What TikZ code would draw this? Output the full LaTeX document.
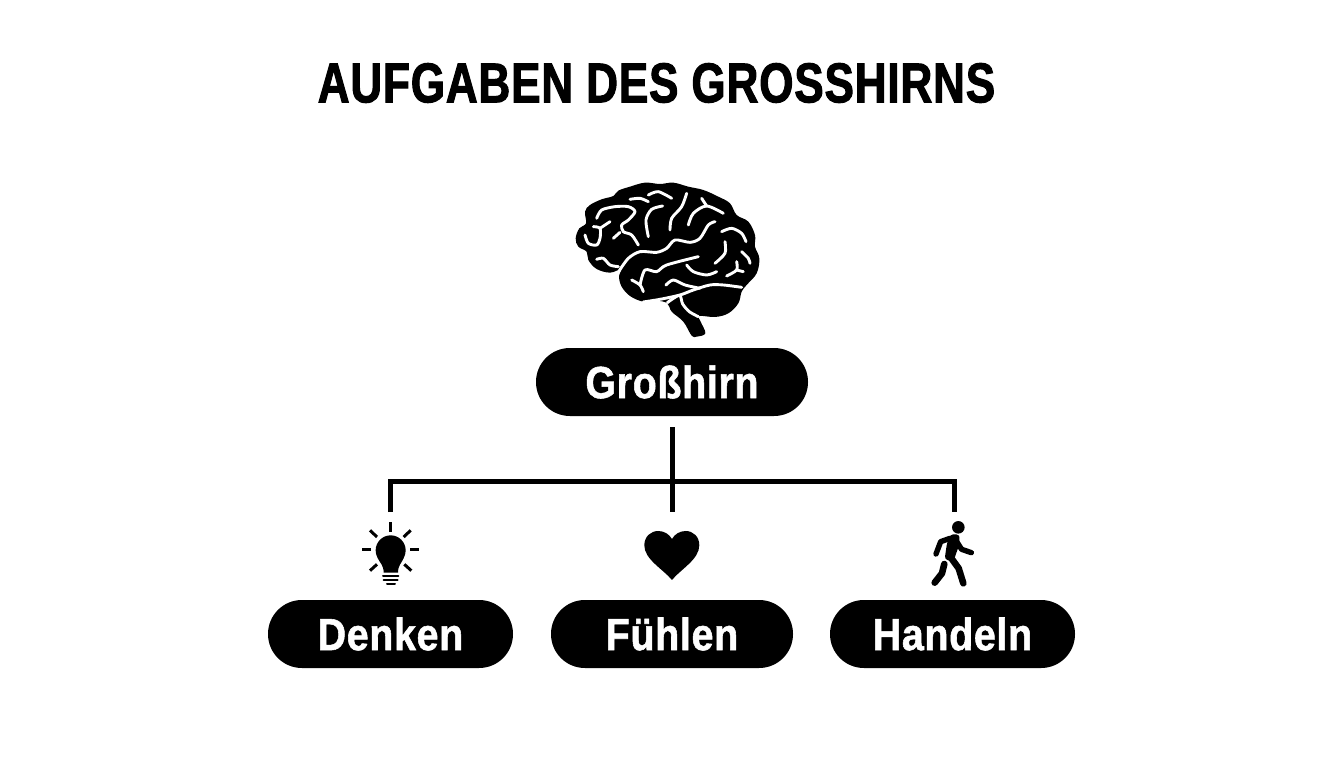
\documentclass[tikz,border=0pt]{standalone}
\usepackage{fontspec}
\setmainfont{Liberation Sans}
\newfontfamily\titlefont{Liberation Sans Bold}[FakeStretch=0.785,FakeBold=1.8,LetterSpace=1.6]
\newfontfamily\pillfont{Liberation Sans Bold}[FakeStretch=0.875,FakeBold=1.2,LetterSpace=1.5]
\begin{document}
\begin{tikzpicture}[x=1pt,y=-1pt,
  pill/.style={fill=black,rounded corners=33.9pt,minimum height=68pt,inner sep=0pt,text=white,font=\fontsize{45}{45}\pillfont\selectfont},
  conn/.style={draw=black,line width=5pt},
  sulcus/.style={draw=white,line width=2.9pt,line cap=round,line join=round},
  titletext/.style={font=\fontsize{56}{56}\titlefont\selectfont,inner sep=0pt}]
\useasboundingbox[fill=white] (0,0) rectangle (1344,768);
\node[titletext] (title) at (656.5,83) {AUFGABEN DES GROSSHIRNS};
\node[pill,minimum width=272pt] (gross) at (672,382) {Großhirn};
\node[pill,minimum width=245pt] (denken) at (390.5,634) {Denken};
\node[pill,minimum width=242pt] (fuehlen) at (672,634) {Fühlen};
\node[pill,minimum width=245pt] (handeln) at (952.5,634) {Handeln};
\coordinate (start) at (672,427);
\coordinate (hub) at (672,481);
\coordinate (endA) at (390.5,512);
\coordinate (endB) at (672,512);
\coordinate (endC) at (954,512);
\draw[conn] (start) -- (endB);
\draw[conn,line join=miter] (endA) |- (hub) -| (endC);
% brain
\begin{scope}[shift={(560,170)},x=0.3333pt,y=-0.3333pt]
\fill[black] plot[smooth cycle,tension=.6] coordinates {
(47,205)(58,175)(78,160)(75,125)(90,105)(125,88)(160,78)(175,62)(210,50)(255,38)(300,42)(340,38)(385,50)(430,60)(475,80)(510,100)(530,135)(565,155)(585,195)(585,230)(598,265)(590,310)(560,345)(545,365)(535,400)(505,430)(465,441)(418,438)(422,455)(436,490)(410,500)(395,497)(370,455)(335,425)(322,400)(290,392)(250,395)(210,378)(185,350)(177,320)(183,298)(150,308)(110,297)(85,270)(80,245)(55,230)};
\draw[sulcus] plot[smooth,tension=.5] coordinates {(178,302)(205,265)(240,245)(290,247)(320,235)(345,210)(390,217)(420,205)(445,165)(465,155)};
\draw[sulcus] plot[smooth,tension=.5] coordinates {(250,396)(300,388)(360,375)(400,360)(450,345)(490,345)(545,352)};
\draw[sulcus] plot[smooth,tension=.5] coordinates {(322,398)(358,376)(368,402)(388,425)(415,440)};
\draw[sulcus] plot[smooth,tension=.5] coordinates {(210,88)(240,85)(265,95)};
\draw[sulcus] plot[smooth,tension=.5] coordinates {(265,75)(295,65)(335,85)};
\draw[sulcus] plot[smooth,tension=.5] coordinates {(110,145)(125,120)(165,110)(205,110)(225,125)(205,150)(185,165)(190,185)(215,195)(235,225)};
\draw[sulcus] (160,205) -- (180,187);
\draw[sulcus] plot[smooth,tension=.5] coordinates {(265,200)(258,150)(275,118)(308,108)};
\draw[sulcus] plot[smooth,tension=.5] coordinates {(330,180)(335,145)(365,110)(380,70)};
\draw[sulcus] plot[smooth,tension=.5] coordinates {(385,165)(400,130)(440,108)(490,130)};
\draw[sulcus] (440,108) -- (425,85);
\draw[sulcus] plot[smooth,tension=.5] coordinates {(75,195)(85,220)(110,225)(120,205)(120,175)(100,170)};
\draw[sulcus] (120,175) -- (150,155);
\draw[sulcus] plot[smooth,tension=.5] coordinates {(110,268)(130,265)(150,285)(175,290)};
\draw[sulcus] plot[smooth,tension=.5] coordinates {(485,185)(515,175)(545,190)(558,215)};
\draw[sulcus] plot[smooth,tension=.5] coordinates {(495,215)(495,250)(465,280)};
\draw[sulcus] plot[smooth,tension=.5] coordinates {(545,245)(565,265)(570,280)};
\draw[sulcus] plot[smooth,tension=.5] coordinates {(530,275)(530,300)(500,318)};
\draw[sulcus] (530,300) -- (550,305);
\draw[sulcus] plot[smooth,tension=.5] coordinates {(215,330)(240,345)(250,365)};
\draw[sulcus] plot[smooth,tension=.5] coordinates {(240,345)(255,300)(290,305)(320,285)(415,260)};
\draw[sulcus] plot[smooth,tension=.5] coordinates {(380,285)(400,305)(440,315)(470,305)};
\draw[sulcus] plot[smooth,tension=.5] coordinates {(318,345)(340,330)(375,345)(420,355)};
\end{scope}
% bulb
\begin{scope}[shift={(340,470)},x=0.3333pt,y=-0.3333pt]
\fill[black] (152,241) circle[radius=15pt];
\fill[black] (112,262) .. controls (120,280) and (131,285) .. (131,308) -- (174,308) .. controls (174,285) and (185,280) .. (192,262) -- cycle;
\foreach \a/\b/\c/\d in {151/157/151/185,90/181/111/201,212/181/191/201,67/240/93/240,211/240/237/240,90/302/111/283,214/302/193/283}
  \draw[black,line width=3pt] (\a,\b) -- (\c,\d);
\foreach \a/\b/\c in {129/175/318,131/173/330,141/165/343}
  \draw[black,line width=2pt,line cap=round] (\a,\c) -- (\b,\c);
% heart
\fill[black] (996,330) .. controls (970,298) and (913,268) .. (913,226) .. controls (913,200) and (932,183) .. (955,183) .. controls (973,183) and (988,193) .. (996,207) .. controls (1004,193) and (1019,183) .. (1037,183) .. controls (1060,183) and (1078,200) .. (1078,226) .. controls (1078,268) and (1022,298) .. (996,330) -- cycle;
\end{scope}
% walker
\begin{scope}[shift={(900,470)},x=0.3333pt,y=-0.3333pt]
\fill[black] (175,172) circle[radius=6.3pt];
\fill[black,rounded corners=3pt] (148,196) -- (170,191) .. controls (180,200) and (178,225) .. (172,240) -- (160,275) -- (134,268) -- (140,225) -- cycle;
\draw[black,line width=5.4pt,line cap=round,line join=round] (150,205) -- (122,215) -- (108,252);
\draw[black,line width=5.4pt,line cap=round,line join=round] (170,215) -- (185,238) -- (214,248);
\draw[black,line width=6.6pt,line cap=round,line join=round] (152,262) -- (176,295) -- (190,340);
\draw[black,line width=6.6pt,line cap=round,line join=round] (133,282) -- (126,310) -- (104,338);
\end{scope}
\end{tikzpicture}
\end{document}
